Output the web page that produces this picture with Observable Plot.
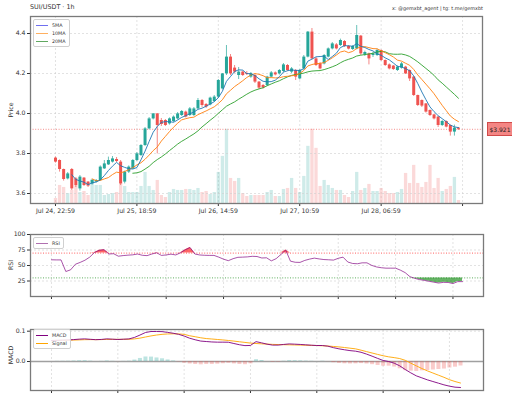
<!DOCTYPE html>
<html><head><meta charset="utf-8">
<script src="https://cdn.jsdelivr.net/npm/d3@7"></script>
<script src="https://cdn.jsdelivr.net/npm/@observablehq/plot@0.6"></script>
<style>
body{margin:0;background:#fff;font-family:"DejaVu Sans",sans-serif;}
#wrap{position:relative;width:512px;height:398px;overflow:hidden;background:#fff;}
.layer{position:absolute;left:0;}
.txt{position:absolute;color:#333;white-space:nowrap;}
.ylab{position:absolute;color:#333;font-size:6.2px;transform:translate(-50%,-50%) rotate(-90deg);white-space:nowrap;}
.legend{position:absolute;background:rgba(255,255,255,0.85);border:0.8px solid #d0d0d0;border-radius:2px;font-size:4.8px;color:#333;}
.legend .row{display:flex;align-items:center;height:8px;}
.legend .sw{display:inline-block;width:12px;height:0;border-top:1px solid;margin:0 4px 0 2px;}
</style></head><body><div id="wrap"></div>
<script>
// ---------- data ----------
const opens = [3.777,3.765,3.720,3.673,3.720,3.673,3.623,3.677,3.657,3.648,
3.657,3.665,3.723,3.743,3.757,3.770,3.757,3.657,3.707,3.723,
3.765,3.790,3.840,3.923,3.973,3.998,3.965,3.965,3.948,3.960,
3.973,3.990,4.007,3.990,3.990,4.023,4.065,4.045,4.043,4.060,
4.082,4.123,4.198,4.282,4.227,4.190,4.207,4.200,4.182,4.190,
4.157,4.140,4.140,4.182,4.203,4.198,4.210,4.240,4.207,4.215,
4.173,4.223,4.282,4.407,4.273,4.248,4.248,4.282,4.323,4.343,
4.340,4.360,4.335,4.320,4.323,4.387,4.293,4.298,4.290,4.290,
4.315,4.265,4.243,4.237,4.215,4.227,4.232,4.215,4.182,4.090,
4.065,4.048,4.015,3.993,3.982,3.940,3.960,3.940,3.907,3.927];
const highs = [3.782,3.768,3.722,3.705,3.725,3.680,3.690,3.680,3.660,3.670,
3.670,3.738,3.765,3.782,3.785,3.780,3.765,3.712,3.738,3.770,
3.805,3.845,3.930,3.980,4.000,4.000,3.975,3.970,3.978,3.988,
4.005,4.015,4.012,4.030,4.030,4.075,4.070,4.050,4.082,4.090,
4.170,4.200,4.340,4.295,4.240,4.230,4.212,4.210,4.205,4.195,
4.160,4.145,4.186,4.210,4.208,4.220,4.250,4.245,4.230,4.220,
4.220,4.290,4.410,4.425,4.280,4.255,4.295,4.328,4.355,4.350,
4.372,4.365,4.340,4.340,4.440,4.390,4.312,4.302,4.305,4.322,
4.318,4.268,4.248,4.240,4.238,4.255,4.236,4.218,4.185,4.092,
4.068,4.050,4.018,3.996,3.985,3.965,3.963,3.942,3.942,3.930];
const lows = [3.752,3.707,3.662,3.668,3.615,3.630,3.612,3.635,3.630,3.642,
3.652,3.660,3.720,3.740,3.752,3.755,3.640,3.648,3.700,3.720,
3.760,3.785,3.835,3.918,3.968,3.798,3.935,3.935,3.942,3.955,
3.968,3.985,3.978,3.985,3.985,4.020,4.030,4.025,4.038,4.055,
4.075,4.118,4.190,4.190,4.200,4.170,4.185,4.190,4.176,4.150,
4.120,4.122,4.135,4.178,4.188,4.192,4.205,4.210,4.200,4.165,
4.168,4.218,4.278,4.268,4.235,4.218,4.243,4.278,4.318,4.318,
4.335,4.330,4.318,4.315,4.318,4.290,4.285,4.243,4.280,4.285,
4.260,4.235,4.218,4.215,4.210,4.222,4.195,4.160,4.085,4.035,
4.030,4.002,3.985,3.968,3.930,3.935,3.928,3.887,3.887,3.915];
const closes = [3.757,3.720,3.670,3.698,3.623,3.640,3.682,3.640,3.637,3.665,
3.665,3.732,3.748,3.765,3.773,3.760,3.648,3.707,3.732,3.765,
3.798,3.840,3.923,3.973,3.998,3.940,3.945,3.940,3.973,3.982,
3.998,4.010,3.982,4.023,4.023,4.065,4.040,4.032,4.077,4.082,
4.165,4.198,4.282,4.198,4.207,4.207,4.190,4.195,4.198,4.157,
4.127,4.128,4.182,4.203,4.193,4.215,4.243,4.215,4.223,4.182,
4.215,4.282,4.407,4.273,4.240,4.223,4.290,4.323,4.348,4.323,
4.365,4.335,4.322,4.335,4.390,4.298,4.305,4.273,4.298,4.315,
4.265,4.240,4.223,4.220,4.232,4.248,4.198,4.173,4.090,4.040,
4.037,4.007,3.990,3.973,3.940,3.960,3.932,3.907,3.927,3.921];
// volume, thousand SUI
const volumes = [5,18,16,10,13,18,11,12,8,24,
18,18,8,9,10,11,20,17,11,11,
11,17,31,17,13,23,8,6,11,14,
13,13,14,14,13,15,11,12,9,11,
31,47,74,25,22,25,10,7,8,8,
8,8,11,13,7,7,14,15,25,15,
11,27,57,74,55,17,23,18,15,13,
13,8,6,12,31,13,15,19,12,12,
15,12,10,10,11,14,30,20,38,20,
16,21,38,15,25,12,14,17,26,3];
const xTickLabels = ["Jul 24, 22:59","Jul 25, 18:59","Jul 26, 14:59","Jul 27, 10:59","Jul 28, 06:59",""];
const xTickIndex = [0,20,40,60,80,100];
const priceTicks = [3.6,3.8,4.0,4.2,4.4];

// RSI(14), first value at candle 13
const rsiStart = 13;
const rsiValues = [59.2,59,59,40.3,43,52,55,58.5,63.5,71,74.5,75.5,68.6,69,65,66,66.7,67.2,68.5,66.5,
65.9,68.5,70.5,66.3,67,68.3,67,70.5,75.5,79,68.5,67,66.5,66.3,66.3,63.5,60.2,57.8,61,63.2,
63.5,63.9,64.8,64.5,62.1,62.4,57.5,61,67.8,75,57,55.2,55,58.2,60.3,61.9,60.6,59.6,59.2,58.7,
61.6,63.5,55.6,53.3,52.8,54.3,54.3,50.2,47.7,46.4,45.7,45.7,45.7,42.5,38.5,32,29.3,27.3,26,24.5,
23.1,21.7,22.8,22.6,20.9,24,24];
const rsiTicks = [13,25,37,49,61,73,85,97];
const rsiYTicks = [25,50,75,100];

// MACD, first value at candle 25
const macdStart = 25;
const macdValues = [0.0693,0.0700,0.0706,0.0712,0.0723,0.0737,0.0747,0.0733,0.0720,0.0728,
0.0747,0.0737,0.0726,0.0736,0.0745,0.0794,0.0872,0.0957,0.0990,0.0990,
0.0986,0.0961,0.0933,0.0897,0.0840,0.0768,0.0717,0.0674,0.0659,0.0645,
0.0638,0.0638,0.0636,0.0594,0.0553,0.0524,0.0530,0.0655,0.0616,0.0572,
0.0541,0.0541,0.0563,0.0580,0.0572,0.0563,0.0550,0.0538,0.0528,0.0528,
0.0506,0.0457,0.0418,0.0387,0.0359,0.0341,0.0305,0.0244,0.0176,0.0103,
0.0035,0.0000,-0.0055,-0.0143,-0.0264,-0.0374,-0.0473,-0.0539,-0.0605,-0.0660,
-0.0715,-0.0770,-0.0814,-0.0847,-0.0858];
const signalValues = [0.0693,0.0696,0.0699,0.0703,0.0707,0.0713,0.0720,0.0722,0.0721,0.0723,
0.0729,0.0731,0.0730,0.0731,0.0734,0.0746,0.0771,0.0808,0.0844,0.0873,
0.0896,0.0909,0.0914,0.0910,0.0896,0.0850,0.0817,0.0783,0.0757,0.0743,
0.0727,0.0712,0.0694,0.0673,0.0651,0.0630,0.0608,0.0594,0.0583,0.0574,
0.0565,0.0559,0.0554,0.0551,0.0546,0.0542,0.0537,0.0531,0.0527,0.0519,
0.0510,0.0497,0.0482,0.0462,0.0440,0.0418,0.0374,0.0326,0.0280,0.0234,
0.0190,0.0154,0.0128,0.0097,0.0039,-0.0055,-0.0143,-0.0231,-0.0308,-0.0380,
-0.0451,-0.0521,-0.0600,-0.0660,-0.0710];
const macdTicks = [25,37,49,61,73,85,97];
const macdYTicks = [0.0,0.1];

// ---------- build ----------
const UP = "#26a69a", DOWN = "#ef5350";
const candles = opens.map((o, i) => ({i, open: o, high: highs[i], low: lows[i], close: closes[i], volume: volumes[i], up: closes[i] >= o}));
const rsiData = rsiValues.map((v, k) => ({i: rsiStart + k, rsi: v}));
const macdData = macdValues.map((v, k) => ({i: macdStart + k, macd: v, signal: signalValues[k], hist: v - signalValues[k]}));
const lastClose = closes[closes.length - 1];

const wrap = document.getElementById("wrap");
const style = {fontFamily: '"DejaVu Sans", sans-serif', fontSize: "6.2px", background: "transparent", color: "#333", overflow: "visible"};
const gridStyle = {stroke: "#cfcfcf", strokeOpacity: 1, strokeDasharray: "2,2", strokeWidth: 0.6};
const frameStyle = {stroke: "#7a7a7a", strokeWidth: 1.3};
const mainDomain = [-6.14, 104.9];

function place(el, top) { el.classList.add("layer"); el.style.top = top + "px"; wrap.appendChild(el); return el; }

// volume layer (own y scale)
const volLayer = Plot.plot({
  width: 512, height: 220, marginLeft: 30, marginRight: 30, marginTop: 16, marginBottom: 17, style,
  x: {domain: mainDomain, axis: null},
  y: {domain: [0, d3.max(volumes) * 2.52], axis: null},
  marks: [
    Plot.gridX(xTickIndex, {x: d => d, ...gridStyle}),
    Plot.ruleX(candles, {x: "i", y1: 0, y2: "volume", stroke: d => d.up ? UP : DOWN, strokeOpacity: 0.22, strokeWidth: 3.3})
  ]
});
place(volLayer, 0);

// price layer
const main = Plot.plot({
  width: 512, height: 220, marginLeft: 30, marginRight: 30, marginTop: 16, marginBottom: 17, style,
  x: {domain: mainDomain},
  y: {domain: [3.55, 4.485]},
  marks: [
    Plot.gridY(priceTicks, {y: d => d, ...gridStyle}),
    Plot.ruleY([lastClose], {stroke: DOWN, strokeOpacity: 0.75, strokeDasharray: "1,1.6", strokeWidth: 0.9}),
    Plot.ruleX(candles, {x: "i", y1: "low", y2: "high", stroke: d => d.up ? UP : DOWN, strokeWidth: 0.7}),
    Plot.ruleX(candles, {x: "i", y1: "open", y2: "close", stroke: d => d.up ? UP : DOWN, strokeWidth: 3}),
    Plot.lineY(candles, Plot.windowY({k: 20, anchor: "end", reduce: "mean", strict: true}, {x: "i", y: "close", stroke: "#2ca02c", strokeWidth: 0.9})),
    Plot.lineY(candles, Plot.windowY({k: 10, anchor: "end", reduce: "mean", strict: true}, {x: "i", y: "close", stroke: "#ff7f0e", strokeWidth: 0.9})),
    Plot.lineY(candles, Plot.windowY({k: 5, anchor: "end", reduce: "mean", strict: true}, {x: "i", y: "close", stroke: "#1f77b4", strokeWidth: 0.9})),
    Plot.axisY({ticks: priceTicks, tickFormat: d3.format(".1f"), tickSize: 3, tickPadding: 2, label: null}),
    Plot.axisX({ticks: xTickIndex, tickFormat: (d, k) => xTickLabels[k], tickSize: 3, tickPadding: 2, label: null}),
    Plot.frame(frameStyle)
  ]
});
place(main, 0);

// RSI panel
const rsiPlot = Plot.plot({
  width: 512, height: 80, marginLeft: 30, marginRight: 29, marginTop: 10, marginBottom: 8, style,
  x: {domain: [8.61, 103.39]},
  y: {domain: [0, 100]},
  marks: [
    Plot.gridX(rsiTicks, {x: d => d, ...gridStyle}),
    Plot.gridY(rsiYTicks, {y: d => d, ...gridStyle}),
    Plot.ruleY([70], {stroke: "#ff0000", strokeOpacity: 0.8, strokeDasharray: "1,1.6", strokeWidth: 0.8}),
    Plot.ruleY([30], {stroke: "#008000", strokeOpacity: 0.8, strokeDasharray: "1,1.6", strokeWidth: 0.8}),
    Plot.areaY(rsiData, {x: "i", y1: () => 70, y2: d => Math.max(d.rsi, 70), fill: "#ff0000", fillOpacity: 0.6}),
    Plot.areaY(rsiData, {x: "i", y1: d => Math.min(d.rsi, 30), y2: () => 30, fill: "#008000", fillOpacity: 0.6}),
    Plot.lineY(rsiData, {x: "i", y: "rsi", stroke: "#800080", strokeOpacity: 0.75, strokeWidth: 0.9}),
    Plot.axisY({ticks: rsiYTicks, tickSize: 3, tickPadding: 2, label: null}),
    Plot.axisX({ticks: rsiTicks, tickFormat: () => "", tickSize: 3, label: null}),
    Plot.frame(frameStyle)
  ]
});
place(rsiPlot, 224);

// MACD panel
const macdPlot = Plot.plot({
  width: 512, height: 80, marginLeft: 30, marginRight: 29, marginTop: 9, marginBottom: 10, style,
  x: {domain: [21.2, 103.16]},
  y: {domain: [-0.0957, 0.1056]},
  marks: [
    Plot.gridX(macdTicks, {x: d => d, ...gridStyle}),
    Plot.gridY(macdYTicks, {y: d => d, ...gridStyle}),
    Plot.ruleY([0], {stroke: "#a0a0a0", strokeWidth: 1.4}),
    Plot.ruleX(macdData, {x: "i", y1: 0, y2: "hist", stroke: d => d.hist >= 0 ? UP : DOWN, strokeOpacity: 0.3, strokeWidth: 4}),
    Plot.lineY(macdData, {x: "i", y: "signal", stroke: "#ffa500", strokeWidth: 0.9}),
    Plot.lineY(macdData, {x: "i", y: "macd", stroke: "#800080", strokeWidth: 0.9}),
    Plot.axisY({ticks: macdYTicks, tickFormat: d3.format(".1f"), tickSize: 3, tickPadding: 2, label: null}),
    Plot.axisX({ticks: macdTicks, tickFormat: () => "", tickSize: 3, label: null}),
    Plot.frame(frameStyle)
  ]
});
place(macdPlot, 320);

// ---------- texts, legends ----------
function addText(txt, left, top, size, extra) {
  const d = document.createElement("div");
  d.className = "txt"; d.textContent = txt;
  d.style.left = left + "px"; d.style.top = top + "px"; d.style.fontSize = size + "px";
  if (extra) Object.assign(d.style, extra);
  wrap.appendChild(d); return d;
}
addText("SUI/USDT · 1h", 30, 3, 6.4);
addText("x: @gemxbt_agent | tg: t.me/gemxbt", 0, 4.5, 4.9, {left: "auto", right: "29px"});

function ylab(txt, x, y) {
  const d = document.createElement("div"); d.className = "ylab"; d.textContent = txt;
  d.style.left = x + "px"; d.style.top = y + "px"; wrap.appendChild(d);
}
ylab("Price", 10, 110);
ylab("RSI", 10, 265);
ylab("MACD", 10, 355);

function legend(items, left, top) {
  const box = document.createElement("div"); box.className = "legend";
  box.style.left = left + "px"; box.style.top = top + "px"; box.style.padding = "1px 3px 1px 0";
  for (const [name, color] of items) {
    const r = document.createElement("div"); r.className = "row";
    const s = document.createElement("span"); s.className = "sw"; s.style.borderTopColor = color;
    const t = document.createElement("span"); t.textContent = name;
    r.appendChild(s); r.appendChild(t); box.appendChild(r);
  }
  wrap.appendChild(box);
}
legend([["5MA", "#6f6ff0"], ["10MA", "#ffb060"], ["20MA", "#60a860"]], 33, 19);
legend([["RSI", "#b070b0"]], 33, 237);
legend([["MACD", "#800080"], ["Signal", "#ffa500"]], 33, 329);

// last price tag, positioned through the price scale
const yLast = main.scale("y").apply(lastClose);
const tag = addText("$" + lastClose.toFixed(3), 487, yLast - 7, 6, {
  width: "26px", height: "14px", lineHeight: "14px", textAlign: "center",
  background: "rgba(239,83,80,0.7)", border: "0.6px solid rgba(200,60,60,0.8)", color: "#222", boxSizing: "border-box"
});
</script></body></html>
